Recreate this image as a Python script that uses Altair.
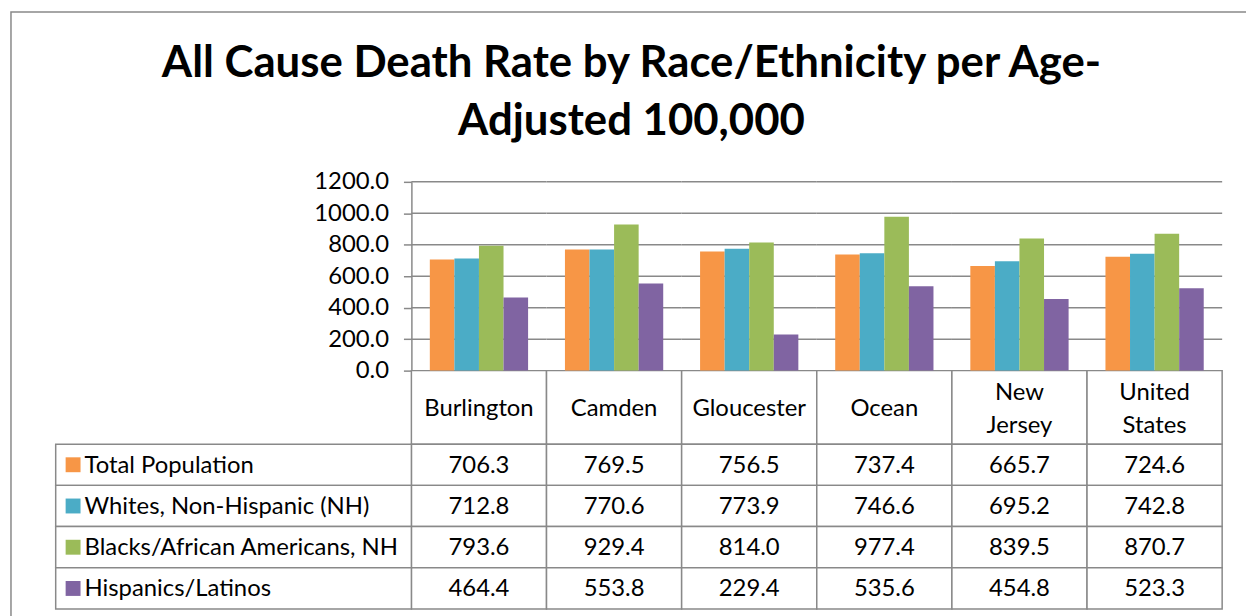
import altair as alt
import pandas as pd

# ---------------- data ----------------
categories = ["Burlington", "Camden", "Gloucester", "Ocean", "New Jersey", "United States"]
series_names = [
    "Total Population",
    "Whites, Non-Hispanic (NH)",
    "Blacks/African Americans, NH",
    "Hispanics/Latinos",
]
total_population = [706.3, 769.5, 756.5, 737.4, 665.7, 724.6]
whites_nh = [712.8, 770.6, 773.9, 746.6, 695.2, 742.8]
blacks_nh = [793.6, 929.4, 814.0, 977.4, 839.5, 870.7]
hispanics = [464.4, 553.8, 229.4, 535.6, 454.8, 523.3]
y_tick_values = [0, 200, 400, 600, 800, 1000, 1200]
series_colors = ["#F79646", "#4BACC6", "#9BBB59", "#8064A2"]
title_lines = ["All Cause Death Rate by Race/Ethnicity per Age-", "Adjusted 100,000"]

values_by_series = [total_population, whites_nh, blacks_nh, hispanics]
rows = []
for s, vals in zip(series_names, values_by_series):
    for c, v in zip(categories, vals):
        rows.append({"category": c, "series": s, "value": v, "label": f"{v:.1f}"})
df = pd.DataFrame(rows)
cat_df = pd.DataFrame({"category": categories})
ser_df = pd.DataFrame({"series": series_names})
grid_df = pd.DataFrame([(c, t) for c in categories for t in y_tick_values], columns=["category", "tick"])

# ---------------- layout (view pixels) ----------------
W, H = 1243, 606
FONT = "Lato"
GRID = "#898989"
LW = 1.5
FS = 24
LINE_H = 33
PLOT_X = [403, 1219]
BAR_Y = [361, 171]
HEAD_Y = [361, 435]
ROW_Y = [435, 601]
LEG_X = [45, 403]
KEY_X = [55, 70]
LAB_X = [74, 403]


def band(domain, rng):
    return alt.Scale(type="band", domain=domain, range=rng, paddingInner=0, paddingOuter=0)


x_cat = alt.X("category:N", scale=band(categories, PLOT_X), axis=None)
y_row = alt.Y("series:N", scale=band(series_names, ROW_Y), axis=None)
y_head = alt.YDatum("header", type="nominal", scale=band(["header"], HEAD_Y), axis=None)
y_val_scale = alt.Scale(domain=[0, 1200], range=BAR_Y, nice=False, zero=True)
color_enc = alt.Color("series:N", scale=alt.Scale(domain=series_names, range=series_colors), legend=None)

border = alt.Chart(pd.DataFrame({"k": [0]})).mark_rect(
    fillOpacity=0, stroke=GRID, strokeWidth=LW
).encode(x=alt.value(0), x2=alt.value(W + 40), y=alt.value(0), y2=alt.value(H + 40))

gridlines = alt.Chart(grid_df).mark_tick(
    orient="horizontal", size=136, thickness=LW, color=GRID, opacity=1
).encode(x=x_cat, y=alt.Y("tick:Q", scale=y_val_scale, axis=None))

bars = alt.Chart(df).mark_bar().encode(
    x=x_cat,
    xOffset=alt.XOffset("series:N", scale=alt.Scale(domain=series_names, paddingInner=0, paddingOuter=0.75)),
    y=alt.Y(
        "value:Q",
        scale=y_val_scale,
        axis=alt.Axis(
            values=y_tick_values, format=".1f", offset=-PLOT_X[0], grid=False,
            domain=True, domainColor=GRID, domainWidth=LW,
            ticks=True, tickSize=8, tickColor=GRID, tickWidth=LW,
            labelFont=FONT, labelFontSize=FS, labelColor="black", labelPadding=15,
            title=None, zindex=1,
        ),
    ),
    color=color_enc,
)

head_cells = alt.Chart(cat_df).mark_rect(fill="white", stroke=GRID, strokeWidth=LW).encode(x=x_cat, y=y_head)
head_text_one = alt.Chart(cat_df).transform_filter(
    "indexof(datum.category, ' ') < 0"
).mark_text(font=FONT, fontSize=FS, baseline="middle", dy=2, color="black").encode(
    x=x_cat, y=y_head, text="category:N"
)
head_text_two = alt.Chart(cat_df).transform_filter(
    "indexof(datum.category, ' ') >= 0"
).transform_calculate(
    lines="split(datum.category, ' ')"
).mark_text(
    font=FONT, fontSize=FS, lineHeight=LINE_H, baseline="middle", dy=-LINE_H / 2 + 2, color="black"
).encode(x=x_cat, y=y_head, text="lines:N")

val_cells = alt.Chart(df).mark_rect(fill="white", stroke=GRID, strokeWidth=LW).encode(x=x_cat, y=y_row)
val_text = alt.Chart(df).mark_text(font=FONT, fontSize=FS, dy=1, color="black").encode(
    x=x_cat, y=y_row, text="label:N"
)

leg_cells = alt.Chart(ser_df).mark_rect(fill="white", stroke=GRID, strokeWidth=LW).encode(
    x=alt.XDatum("legend", type="nominal", scale=band(["legend"], LEG_X), axis=None), y=y_row
)
keys = alt.Chart(ser_df).mark_square(size=225, opacity=1).encode(
    x=alt.XDatum("key", type="nominal", scale=band(["key"], KEY_X), axis=None), y=y_row, color=color_enc
)
labels = alt.Chart(ser_df).mark_text(align="left", font=FONT, fontSize=FS, dy=1, color="black").encode(
    x=alt.XDatum("label", type="nominal", scale=band(["label"], LAB_X), axis=None, bandPosition=0),
    y=y_row,
    text="series:N",
)

chart = alt.layer(
    border, gridlines, head_cells, val_cells, leg_cells, bars,
    head_text_one, head_text_two, val_text, keys, labels,
).resolve_scale(x="independent", y="independent").properties(
    width=W,
    height=H,
    autosize=alt.AutoSizeParams(type="none"),
    padding={"left": 3, "top": 2, "right": 0, "bottom": 0},
    title=alt.TitleParams(
        text=title_lines, font=FONT, fontSize=44, fontWeight="bold", color="black",
        anchor="middle", frame="group", baseline="top", offset=-134, lineHeight=59, dx=3,
    ),
).configure_view(stroke=None)

chart.save("out.html", embed_options={"renderer": "svg", "actions": False})
